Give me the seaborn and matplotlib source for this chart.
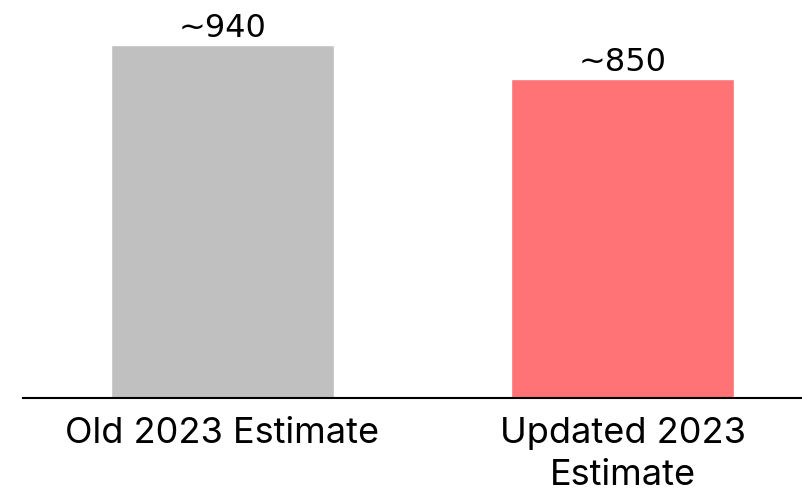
import matplotlib
matplotlib.use("Agg")
import matplotlib.pyplot as plt
import seaborn as sns
import pandas as pd

categories = ["Old 2023 Estimate", "Updated 2023\nEstimate"]
values = [940, 850]
labels = ["~940", "~850"]
colors = ["#C0C0C0", "#FF7276"]

sns.set_theme(style="white")
plt.rcParams['font.family'] = ['Inter', 'DejaVu Sans']
plt.rcParams['text.color'] = 'black'

df = pd.DataFrame({"cat": categories, "val": values})

fig = plt.figure(figsize=(8.02, 4.93), dpi=100)
ax = fig.add_axes([22.5 / 802, (493 - 398) / 493, 780 / 802, 398 / 493])
sns.barplot(data=df, x="cat", y="val", hue="cat", palette=colors, width=0.557,
            legend=False, ax=ax, saturation=1)

ax.set_xlim(-0.5, 1.45)
ax.set_ylim(0, 1060)
for c, lab in zip(ax.containers, labels):
    ax.bar_label(c, labels=[lab], padding=0.5, fontsize=23, family='DejaVu Sans', color='black')

ax.set_xlabel("")
ax.set_ylabel("")
ax.set_yticks([])
for s in ["top", "right", "left"]:
    ax.spines[s].set_visible(False)
ax.spines["bottom"].set_color("black")
ax.spines["bottom"].set_linewidth(1.5)
ax.tick_params(axis="x", length=0, pad=14, labelsize=26, colors="black")
for t in ax.get_xticklabels():
    t.set_linespacing(1.33)

fig.savefig("out.png", dpi=100)
